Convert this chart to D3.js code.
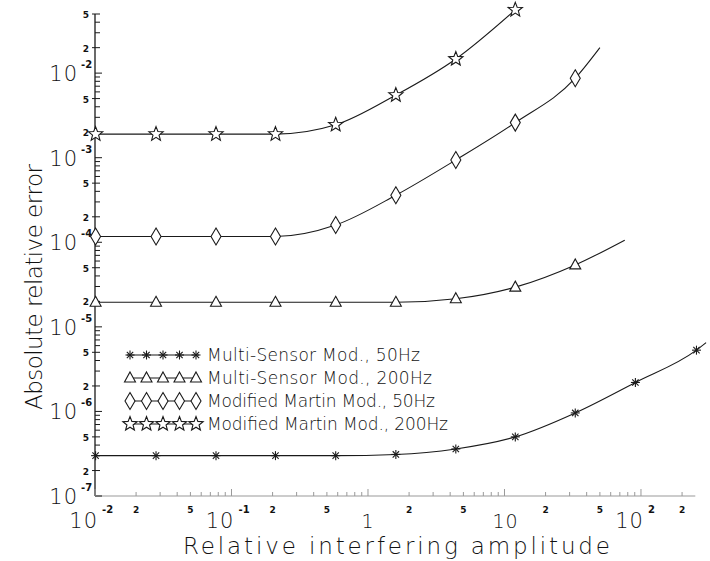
<!DOCTYPE html>
<html>
<head>
<meta charset="utf-8">
<script src="https://cdn.jsdelivr.net/npm/d3@7"></script>
<style>
  html, body { margin: 0; padding: 0; background: #fff; }
  svg text { font-family: "DejaVu Sans", "Liberation Sans", sans-serif; fill: #111; }
</style>
</head>
<body>
<svg id="chart" width="710" height="561"></svg>
<script>
// Relative interfering amplitude at which each method was evaluated
const amplitudes = [0.0101, 0.028, 0.077, 0.21, 0.58, 1.6, 4.4, 12, 33, 91, 255];

// Absolute relative error, one array per method (marker points)
const multiSensor50 = [3.0e-7, 3.0e-7, 3.0e-7, 3.0e-7, 3.0e-7, 3.1e-7, 3.6e-7, 5.0e-7, 9.6e-7, 2.2e-6, 5.3e-6];
const multiSensor200 = [1.95e-5, 1.95e-5, 1.95e-5, 1.95e-5, 1.95e-5, 1.95e-5, 2.15e-5, 2.95e-5, 5.4e-5];
const martin50 = [1.17e-4, 1.17e-4, 1.17e-4, 1.17e-4, 1.6e-4, 3.6e-4, 9.4e-4, 2.6e-3, 8.7e-3];
const martin200 = [1.9e-3, 1.9e-3, 1.9e-3, 1.9e-3, 2.45e-3, 5.5e-3, 1.47e-2, 5.6e-2];

// Where each fitted curve ends beyond its last marker [amplitude, error]
const curveEnds = {
  ms50: [300, 6.5e-6],
  ms200: [76, 1.06e-4],
  mm50: [50, 2.0e-2],
  mm200: null
};

const legendLabels = [
  "Multi-Sensor Mod., 50Hz",
  "Multi-Sensor Mod., 200Hz",
  "Modified Martin Mod., 50Hz",
  "Modified Martin Mod., 200Hz"
];

// Axis ticks
const xMajorTicks = [1e-2, 1e-1, 1, 10, 100];
const xMajorLabels = [["10", "-2"], ["10", "-1"], ["1", ""], ["10", ""], ["10", "2"]];
const xMinorLabeled = [0.02, 0.05, 0.2, 0.5, 2, 5, 20, 50, 200];
const yMajorTicks = [1e-7, 1e-6, 1e-5, 1e-4, 1e-3, 1e-2];
const yMajorExp = ["-7", "-6", "-5", "-4", "-3", "-2"];
const yMinorLabeled = [2e-7, 5e-7, 2e-6, 5e-6, 2e-5, 5e-5, 2e-4, 5e-4, 2e-3, 5e-3, 2e-2, 5e-2];

const svg = d3.select("#chart");

const x = d3.scaleLog().domain([0.01, 250]).range([95, 695.3]);
const y = d3.scaleLog().domain([1e-7, 5e-2]).range([496, 14]);

const ink = "#1a1a1a";
const thin = 200;

const same = (a, b) => Math.abs(a / b - 1) < 1e-6;
const mantissa = v => d3.format(".0f")(v / Math.pow(10, Math.floor(Math.log10(v) + 1e-9)));

// ---- axes ----
const axes = svg.append("g");
axes.append("line")
  .attr("x1", x(0.01)).attr("x2", x(0.01))
  .attr("y1", y(5e-2)).attr("y2", y(1e-7))
  .attr("stroke", ink).attr("stroke-width", 1.3);
axes.append("line")
  .attr("x1", x(0.01)).attr("x2", x(250))
  .attr("y1", y(1e-7)).attr("y2", y(1e-7))
  .attr("stroke", "#999").attr("stroke-width", 1);

// y ticks: every integer multiple within each decade
const yTickVals = [];
for (let e = -7; e <= -2; e++) {
  for (let m = 1; m <= 9; m++) {
    const v = m * Math.pow(10, e);
    if (v <= 5.0001e-2) yTickVals.push(v);
  }
}
axes.selectAll(".ytick").data(yTickVals).join("line")
  .attr("x1", d => yMinorLabeled.some(t => same(t, d)) ? x(0.01) - 3 : x(0.01))
  .attr("x2", d => yMajorTicks.some(t => same(t, d)) ? x(0.01) + 7 : x(0.01) + 5)
  .attr("y1", d => y(d)).attr("y2", d => y(d))
  .attr("stroke", ink).attr("stroke-width", 1);

// x ticks
const xTickVals = [];
for (let e = -2; e <= 2; e++) {
  for (let m = 1; m <= 9; m++) {
    const v = m * Math.pow(10, e);
    if (v <= 250) xTickVals.push(v);
  }
}
axes.selectAll(".xtick").data(xTickVals).join("line")
  .attr("x1", d => x(d)).attr("x2", d => x(d))
  .attr("y1", y(1e-7))
  .attr("y2", d => xMajorTicks.some(t => same(t, d)) ? y(1e-7) - 7 : y(1e-7) - 4)
  .attr("stroke", "#999").attr("stroke-width", 1);

// y tick labels: large "10", raised exponent, small mantissas next to the axis
const yl = axes.append("g");
yMajorTicks.forEach((v, i) => {
  yl.append("text")
    .attr("x", 78).attr("y", y(v) + 8)
    .attr("text-anchor", "end")
    .attr("font-size", 21).attr("font-weight", thin)
    .attr("letter-spacing", 1)
    .text("10");
  yl.append("text")
    .attr("x", 81).attr("y", y(v) - 5)
    .attr("font-size", 10).attr("font-weight", "bold")
    .text(yMajorExp[i]);
});
yMinorLabeled.forEach(v => {
  yl.append("text")
    .attr("x", 89).attr("y", y(v) + 4)
    .attr("text-anchor", "end")
    .attr("font-size", 9).attr("font-weight", "bold")
    .text(mantissa(v));
});

// x tick labels
const xl = axes.append("g");
xMajorTicks.forEach((v, i) => {
  const [base, exp] = xMajorLabels[i];
  if (exp) {
    xl.append("text")
      .attr("x", x(v) + 3).attr("y", 528)
      .attr("text-anchor", "end")
      .attr("font-size", 21).attr("font-weight", thin)
      .attr("letter-spacing", 1)
      .text(base);
    xl.append("text")
      .attr("x", x(v) + 7).attr("y", 513)
      .attr("font-size", 10).attr("font-weight", "bold")
      .text(exp);
  } else {
    xl.append("text")
      .attr("x", x(v) + (base.length > 1 ? 1 : 0)).attr("y", 528)
      .attr("text-anchor", "middle")
      .attr("font-size", 19).attr("font-weight", thin)
      .attr("letter-spacing", 1)
      .text(base);
  }
});
xMinorLabeled.forEach(v => {
  xl.append("text")
    .attr("x", x(v)).attr("y", 513)
    .attr("text-anchor", "middle")
    .attr("font-size", 9).attr("font-weight", "bold")
    .text(mantissa(v));
});

// axis titles
svg.append("text")
  .attr("x", 183).attr("y", 554)
  .attr("font-size", 23).attr("font-weight", thin)
  .attr("textLength", 427).attr("lengthAdjust", "spacing")
  .text("Relative interfering amplitude");
svg.append("text")
  .attr("transform", "translate(42,410) rotate(-90)")
  .attr("font-size", 23).attr("font-weight", thin)
  .attr("textLength", 246).attr("lengthAdjust", "spacing")
  .text("Absolute relative error");

// ---- marker shapes ----
function asterisk(g, cx, cy) {
  const r = 4.5;
  for (let k = 0; k < 4; k++) {
    const a = k * Math.PI / 4;
    g.append("line")
      .attr("x1", cx - r * Math.cos(a)).attr("y1", cy - r * Math.sin(a))
      .attr("x2", cx + r * Math.cos(a)).attr("y2", cy + r * Math.sin(a))
      .attr("stroke", ink).attr("stroke-width", 1.1);
  }
}
function triangle(g, cx, cy) {
  g.append("path")
    .attr("d", `M${cx},${cy - 6}L${cx + 5.5},${cy + 4}L${cx - 5.5},${cy + 4}Z`)
    .attr("fill", "#fff").attr("stroke", ink).attr("stroke-width", 1.1);
}
function diamond(g, cx, cy) {
  g.append("path")
    .attr("d", `M${cx},${cy - 8.5}L${cx + 5},${cy}L${cx},${cy + 8.5}L${cx - 5},${cy}Z`)
    .attr("fill", "#fff").attr("stroke", ink).attr("stroke-width", 1.1);
}
function star(g, cx, cy) {
  const pts = [];
  for (let k = 0; k < 10; k++) {
    const r = k % 2 === 0 ? 7.5 : 3.2;
    const a = -Math.PI / 2 + k * Math.PI / 5;
    pts.push([cx + r * Math.cos(a), cy + r * Math.sin(a)]);
  }
  g.append("path")
    .attr("d", "M" + pts.map(p => p.join(",")).join("L") + "Z")
    .attr("fill", "#fff").attr("stroke", ink).attr("stroke-width", 1.1);
}

const seriesList = [
  { key: "ms50", values: multiSensor50, marker: asterisk },
  { key: "ms200", values: multiSensor200, marker: triangle },
  { key: "mm50", values: martin50, marker: diamond },
  { key: "mm200", values: martin200, marker: star }
];

const line = d3.line()
  .x(d => x(d[0])).y(d => y(d[1]))
  .curve(d3.curveMonotoneX);

const plot = svg.append("g");
seriesList.forEach(s => {
  const pts = s.values.map((v, i) => [amplitudes[i], v]);
  const end = curveEnds[s.key];
  const curvePts = end ? pts.concat([end]) : pts;
  plot.append("path")
    .attr("d", line(curvePts))
    .attr("fill", "none").attr("stroke", ink).attr("stroke-width", 1.1);
  const mg = plot.append("g");
  pts.forEach(p => s.marker(mg, x(p[0]), y(p[1])));
});

// ---- legend ----
const legend = svg.append("g");
const legendRows = [355, 378, 401, 424];
const legendWidths = [213, 225, 228, 241];
seriesList.forEach((s, i) => {
  const ly = legendRows[i];
  legend.append("line")
    .attr("x1", 127).attr("x2", 199).attr("y1", ly).attr("y2", ly)
    .attr("stroke", ink).attr("stroke-width", 1.1);
  for (let k = 0; k < 5; k++) s.marker(legend, 130 + k * 16.5, ly);
  legend.append("text")
    .attr("x", 207).attr("y", ly + 6)
    .attr("font-size", 17).attr("font-weight", thin)
    .attr("textLength", legendWidths[i]).attr("lengthAdjust", "spacing")
    .text(legendLabels[i]);
});
</script>
</body>
</html>
